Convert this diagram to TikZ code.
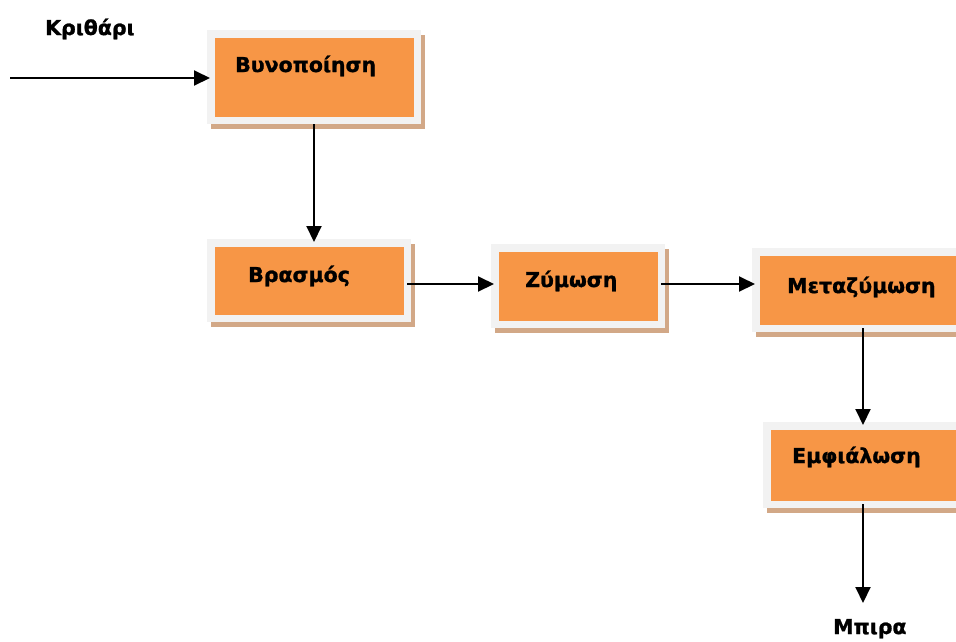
\documentclass[tikz,border=0pt]{standalone}
\usepackage{fontspec}
\setmainfont{DejaVu Sans}[BoldFeatures={FakeBold=1.2}]
\usetikzlibrary{arrows.meta}
\definecolor{boxorange}{HTML}{F79646}
\definecolor{boxframe}{HTML}{F2F2F2}
\definecolor{boxshadow}{RGB}{210,168,135}
\tikzset{
  stage/.style={
    rectangle, draw=boxframe, fill=boxorange, line width=7.5pt,
    inner sep=0pt,
    preaction={draw=boxshadow, fill=boxshadow, line width=7.5pt,
               transform canvas={xshift=4pt, yshift=-5pt}}
  },
  caption/.style={anchor=base west, inner sep=0pt,
    font=\fontsize{20.5}{25}\selectfont\bfseries},
  flow/.style={line width=2pt, -{Triangle[length=16pt,width=15pt]},
    shorten >=-3pt}
}
\begin{document}
\begin{tikzpicture}[x=1pt, y=-1pt]
  \useasboundingbox (0,0) rectangle (956,641);

  % process stages
  \node[stage, minimum width=206.5pt, minimum height=86.5pt] (b1) at (314,77) {};
  \node[stage, minimum width=196.5pt, minimum height=75.5pt] (b2) at (309,280.5) {};
  \node[stage, minimum width=166.5pt, minimum height=76.5pt] (b3) at (578,286) {};
  \node[stage, minimum width=214.5pt, minimum height=76.5pt] (b4) at (863,290) {};
  \node[stage, minimum width=192.5pt, minimum height=78.5pt] (b5) at (863,465) {};

  % labels
  \node[caption] (tin)  at (45,35)   {Κριθάρι};
  \node[caption] (t1)   at (235,72)  {Βυνοποίηση};
  \node[caption] (t2)   at (248,282) {Βρασμός};
  \node[caption] (t3)   at (525,287) {Ζύμωση};
  \node[caption] (t4)   at (787,293) {Μεταζύμωση};
  \node[caption] (t5)   at (792,463) {Εμφιάλωση};
  \node[caption] (tout) at (833,634) {Μπιρα};

  % connectors
  \coordinate (src) at (10,78);
  \coordinate (row) at (0,284);
  \coordinate (dst) at (863,600);
  \draw[flow] (src) -- (src -| b1.west);
  \draw[flow] (b1.south) -- (b1.south |- b2.north);
  \draw[flow] ([xshift=-4pt]b2.east |- row) -- (b3.west |- row);
  \draw[flow] ([xshift=-4pt]b3.east |- row) -- (b4.west |- row);
  \draw[flow] ([yshift=4pt]b4.south) -- (b5.north);
  \draw[flow] ([yshift=4pt]b5.south) -- (dst);
\end{tikzpicture}
\end{document}
